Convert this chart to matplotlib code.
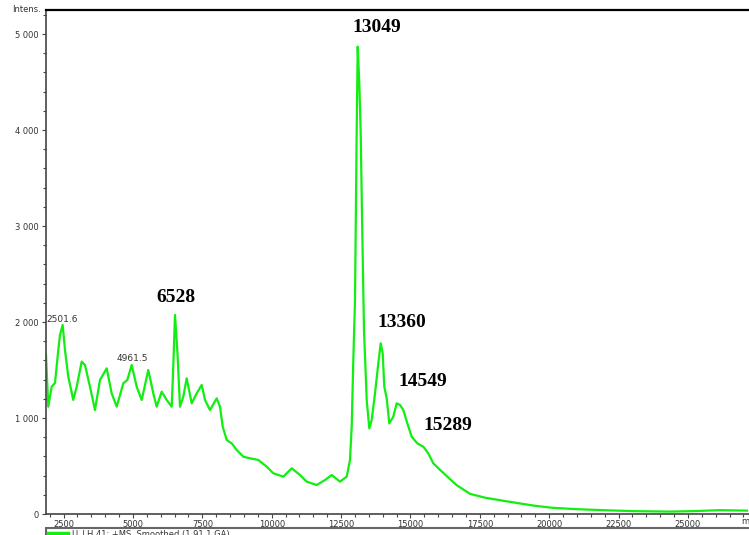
import matplotlib
matplotlib.use("Agg")
import matplotlib.pyplot as plt
from matplotlib.ticker import MultipleLocator, FuncFormatter
from matplotlib.patches import Rectangle
from matplotlib.lines import Line2D

# m/z and intensity
mz = [1865, 1947, 2070, 2189, 2308, 2369, 2466, 2549, 2668, 2848, 2971, 3151,
      3270, 3450, 3630, 3811, 4052, 4232, 4413, 4650, 4795, 4953, 5133, 5314,
      5551, 5732, 5854, 6034, 6215, 6395, 6452, 6514, 6597, 6694, 6813, 6935,
      7116, 7296, 7476, 7595, 7775, 8017, 8135, 8233, 8377, 8557, 8737, 8975,
      9217, 9516, 9819, 10056, 10417, 10720, 11019, 11260, 11621, 11920, 12161,
      12460, 12702, 12821, 12882, 12940, 13001, 13062, 13098, 13156, 13206,
      13264, 13325, 13423, 13516, 13603, 13722, 13841, 13927, 13999, 14057,
      14143, 14237, 14381, 14504, 14623, 14742, 14886, 15044, 15246, 15462,
      15643, 15823, 16064, 16363, 16666, 17145, 17686, 18300, 18947, 19500,
      20101, 21000, 21939, 23000, 24353, 25200, 26155, 27129]
intens = [1656, 1118, 1326, 1365, 1708, 1865, 1969, 1708, 1430, 1188, 1326, 1587,
          1552, 1326, 1083, 1396, 1517, 1257, 1118, 1361, 1396, 1552, 1326, 1188,
          1500, 1257, 1118, 1274, 1188, 1118, 1535, 2073, 1708, 1118, 1222, 1413,
          1153, 1257, 1344, 1188, 1083, 1205, 1118, 910, 771, 736, 667, 597,
          580, 563, 493, 424, 389, 476, 406, 337, 302, 354, 406,
          337, 389, 563, 910, 1604, 2229, 4000, 4868, 4486, 3969,
          2927, 1917, 1188, 892, 979, 1257, 1569, 1778, 1674, 1326,
          1205, 944, 1014, 1153, 1135, 1083, 944, 805, 736, 701,
          632, 528, 460, 380, 300, 210, 170, 140, 110, 85,
          65, 50, 40, 30, 25, 30, 40, 35]

peak_labels = ["13049", "6528", "13360", "14549", "15289"]
peak_label_xy = [(13794, 5063), (6550, 2250), (14695, 1990), (15452, 1375), (16353, 927)]
small_labels = ["2501.6", "4961.5"]
small_label_xy = [(2441, 2021), (4964, 1615)]

fig = plt.figure(figsize=(7.49, 5.35), dpi=100)
ax = fig.add_axes([46 / 749, 21 / 535, 703 / 749, 504 / 535])

ax.plot(mz, intens, color="#11ee11", lw=1.6)

ax.set_xlim(1865, 27200)
ax.set_ylim(0, 5250)

ax.xaxis.set_major_locator(MultipleLocator(2500))
ax.xaxis.set_minor_locator(MultipleLocator(500))
ax.yaxis.set_major_locator(MultipleLocator(1000))
ax.yaxis.set_minor_locator(MultipleLocator(200))
ax.yaxis.set_major_formatter(FuncFormatter(lambda v, p: f"{int(v):,}".replace(",", " ")))
ax.xaxis.set_major_formatter(FuncFormatter(lambda v, p: f"{int(v)}"))

ax.tick_params(axis="both", which="major", labelsize=6, labelcolor="#333333",
               length=3, width=0.8, color="#444444", pad=2)
ax.tick_params(axis="x", which="major", pad=1)
ax.tick_params(axis="both", which="minor", length=2, width=0.8, color="#444444")

ax.spines["right"].set_visible(False)
ax.spines["top"].set_linewidth(1.6)
ax.spines["top"].set_color("black")
ax.spines["left"].set_color("#444444")
ax.spines["left"].set_linewidth(1.2)
ax.spines["bottom"].set_color("#444444")
ax.spines["bottom"].set_linewidth(1.2)

for lab, (x, y) in zip(peak_labels, peak_label_xy):
    ax.text(x, y, lab, ha="center", va="center", fontsize=14, fontweight="bold",
            family="Liberation Serif", color="black")
for lab, (x, y) in zip(small_labels, small_label_xy):
    ax.text(x, y, lab, ha="center", va="center", fontsize=6.5, color="#333333")

fig.text(12 / 749, 1 - 10 / 535, "Intens.", fontsize=6, color="#333333", va="center")
fig.text(741 / 749, 1 - 521 / 535, "m/z", fontsize=6, color="#333333", va="center")

# legend strip below the axis
fig.patches.append(Rectangle((46 / 749, -0.01), 710 / 749, 1.01 - 528 / 535,
                             transform=fig.transFigure, fill=False,
                             edgecolor="#666666", lw=1.5))
fig.lines.append(Line2D([48 / 749, 68 / 749], [1 - 533 / 535] * 2,
                        transform=fig.transFigure, color="#11ee11", lw=2.5))
fig.text(72 / 749, 1 - 534 / 535, "U_LH 41: +MS, Smoothed (1.91,1,GA)",
         fontsize=6, color="#333333", va="center")

fig.savefig("out.png", dpi=100)
